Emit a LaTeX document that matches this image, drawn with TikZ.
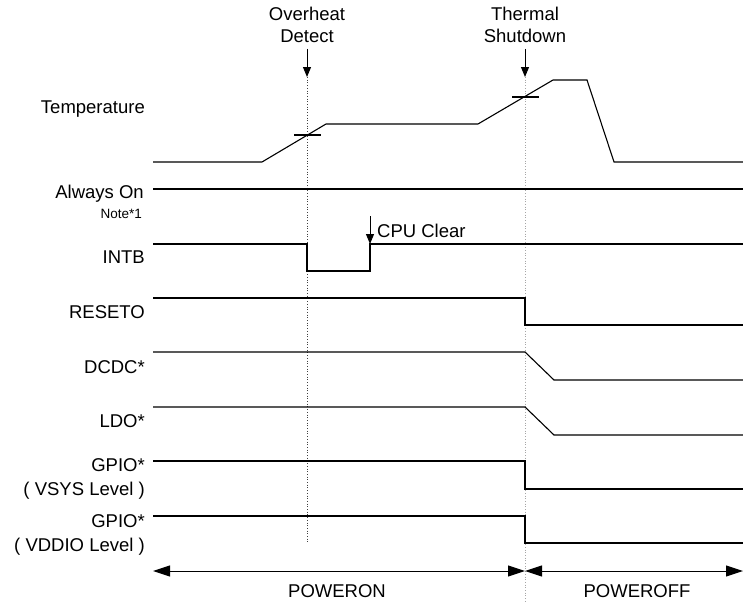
\documentclass[tikz,border=0pt]{standalone}
\usepackage{fontspec}
\setmainfont{Liberation Sans}
\usetikzlibrary{arrows.meta, positioning, calc}

\begin{document}
\begin{tikzpicture}[x=1pt,y=-1pt,
  sig/.style={line width=1.1pt},
  lbl/.style={anchor=base east, inner sep=0pt, font=\fontsize{18.5}{23}\selectfont},
  evtlbl/.style={anchor=south, align=center, inner xsep=0pt, inner ysep=6pt, font=\fontsize{18.5}{22}\selectfont},
  evt/.style={line width=1pt, -{Triangle[length=10pt,width=8pt]}},
  span/.style={line width=1pt, {Triangle[length=17pt,width=11pt]}-{Triangle[length=17pt,width=11pt]}}]
\useasboundingbox (0,0) rectangle (743,602);
% Events
\node[evtlbl] (ohd) at (307,49) {Overheat\\Detect};
\node[evtlbl] (tsd) at (525,49) {Thermal\\Shutdown};
\coordinate (oh) at (307,77);
\coordinate (ts) at (525,77);
\draw[evt] (ohd.south) -- (oh);
\draw[evt] (tsd.south) -- (ts);
\draw[dotted, line width=0.7pt, black!75] (oh) -- (307,542);
\draw[dotted, line width=0.7pt, black!35] (ts) -- (525,602);
% Labels
\node[lbl] (temp) at (145,113) {Temperature};
\node[lbl] (aon) at (144,198) {Always On};
\node[lbl, font=\fontsize{13.5}{16}\selectfont] (note) at (142,218) {Note*1};
\node[lbl] (intb) at (145,263) {INTB};
\node[lbl] (reseto) at (145,318) {RESETO};
\node[lbl] (dcdc) at (145,373) {DCDC*};
\node[lbl] (ldo) at (145,427) {LDO*};
\node[lbl] (gpioa) at (145,471) {GPIO*};
\node[lbl] (vsys) at (145,495) {( VSYS Level )};
\node[lbl] (gpiob) at (145,527) {GPIO*};
\node[lbl] (vddio) at (145,551) {( VDDIO Level )};
% Temperature
\draw[sig] (153,162) -- (262,162) -- (326,124) -- (478,124) -- (553,80) -- (587,80) -- (614,162) -- (743,162);
\draw[sig] (294,135) -- (321,135);
\draw[sig] (512,97) -- (539,97);
% Always On
\draw[sig] (153,189) -- (743,189);
% INTB
\draw[sig] (153,244) -- (307,244) -- (307,271) -- (370,271) -- (370,244) -- (743,244);
\node[anchor=base west, inner sep=0pt, font=\fontsize{18.5}{22}\selectfont] (cpu) at (377,237) {CPU Clear};
\coordinate (clr) at (370,244);
\draw[evt] (370,216) -- (clr);
% RESETO
\draw[sig] (153,298) -- (525,298) -- (525,325) -- (743,325);
% DCDC, LDO
\draw[sig] (153,352) -- (525,352) -- (554,380) -- (743,380);
\draw[sig] (153,407) -- (525,407) -- (554,435) -- (743,435);
% GPIO
\draw[sig] (153,461) -- (525,461) -- (525,489) -- (743,489);
\draw[sig] (153,516) -- (525,516) -- (525,543) -- (743,543);
% Power states
\coordinate (pstart) at (153,571);
\coordinate (pmid) at (525,571);
\coordinate (pend) at (743,571);
\draw[span] (pstart) -- (pmid);
\draw[span] (pmid) -- (pend);
\node[anchor=base, inner sep=0pt, font=\fontsize{18.5}{22}\selectfont] (pon) at (337,597) {POWERON};
\node[anchor=base, inner sep=0pt, font=\fontsize{18.5}{22}\selectfont] (poff) at (637,597) {POWEROFF};
\end{tikzpicture}
\end{document}
